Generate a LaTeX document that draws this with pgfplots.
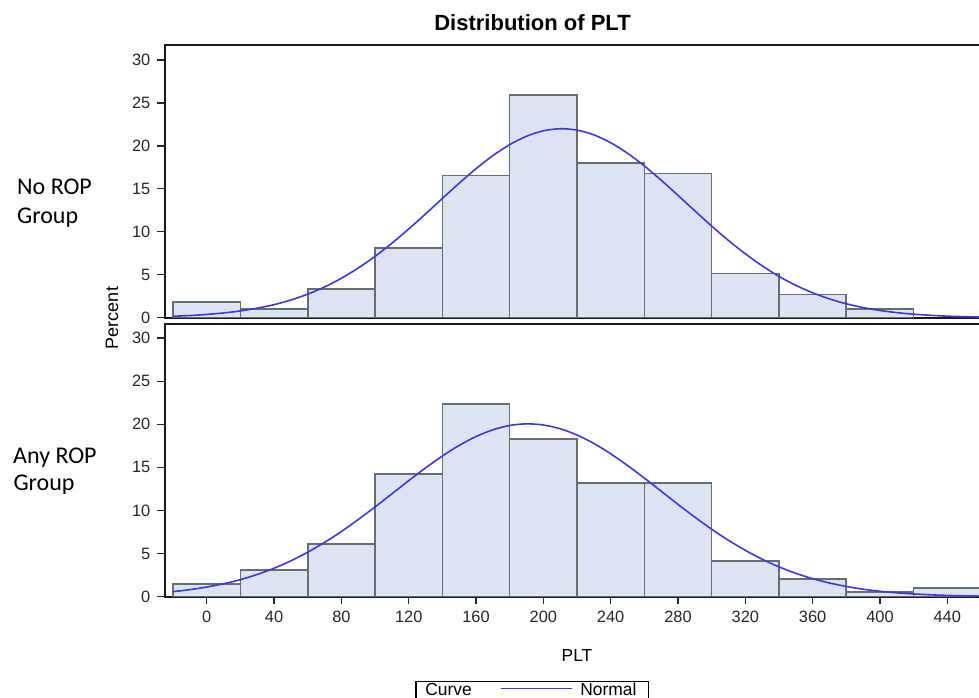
\documentclass[border=0pt]{standalone}
\usepackage{pgfplots}
\pgfplotsset{compat=1.18}
\usepackage{fontspec}
\setmainfont{Liberation Sans}
\newfontfamily\rowfont{Carlito}

\definecolor{barfill}{RGB}{219,228,240}
\definecolor{baredge}{RGB}{105,108,112}
\definecolor{curveblue}{RGB}{58,58,222}

% shared look of both panels
\pgfplotsset{hist/.style={
    scale only axis,
    width=413.85pt,
    xmin=-24.8, xmax=467, ymin=0,
    axis line style={black!90, line width=0.95pt},
    tick style={black!85, line width=0.6pt},
    tick align=outside,
    major tick length=3.8pt,
    ytick={0,5,...,30},
    ytick pos=left,
    tick label style={font=\fontsize{8.2}{9}\selectfont, text=black!85},
    /pgf/number format/assume math mode=true,
}}

\begin{document}
\begin{tikzpicture}
\useasboundingbox (0,0) rectangle (489.5pt,348.5pt);
\begin{scope}
\clip (0,0) rectangle (489.5pt,348.5pt);

% No ROP group
\begin{axis}[hist,
    at={(82.5pt,189.65pt)}, anchor=south west,
    height=136.35pt, ymax=31.75,
    xtick=\empty,
]
\addplot[ybar interval, fill=barfill, draw=baredge, line width=0.8pt] coordinates {
    (-20,1.8) (20,1.0) (60,3.35) (100,8.15) (140,16.55) (180,25.9)
    (220,18.0) (260,16.8) (300,5.15) (340,2.7) (380,1.0) (420,0)
};
\addplot[smooth, curveblue, line width=0.8pt] coordinates {
    (-20,0.17) (-10,0.25) (0,0.38) (10,0.55) (20,0.79) (30,1.11) (40,1.52)
    (50,2.06) (60,2.74) (70,3.58) (80,4.59) (90,5.78) (100,7.14) (110,8.67)
    (120,10.33) (130,12.08) (140,13.88) (150,15.66) (160,17.35) (170,18.87)
    (180,20.15) (190,21.13) (200,21.76) (210,22.00) (220,21.84) (230,21.29)
    (240,20.37) (250,19.15) (260,17.67) (270,16.01) (280,14.24) (290,12.44)
    (300,10.67) (310,8.99) (320,7.44) (330,6.04) (340,4.81) (350,3.77)
    (360,2.90) (370,2.19) (380,1.62) (390,1.18) (400,0.84) (410,0.59)
    (420,0.41) (430,0.28) (440,0.18) (450,0.12) (460,0.08) (470,0.05)
};
\end{axis}

% Any ROP group
\begin{axis}[hist,
    at={(82.5pt,50.15pt)}, anchor=south west,
    height=136.2pt, ymax=31.6,
    xtick={0,40,...,440}, xtick pos=bottom,
]
\addplot[ybar interval, fill=barfill, draw=baredge, line width=0.8pt] coordinates {
    (-20,1.47) (20,3.1) (60,6.12) (100,14.25) (140,22.38) (180,18.28)
    (220,13.17) (260,13.2) (300,4.11) (340,2.02) (380,0.58) (420,1.01) (460,0)
};
\addplot[smooth, curveblue, line width=0.8pt] coordinates {
    (-20,0.59) (-10,0.82) (0,1.12) (10,1.50) (20,1.98) (30,2.58) (40,3.30)
    (50,4.16) (60,5.16) (70,6.30) (80,7.56) (90,8.95) (100,10.41) (110,11.93)
    (120,13.46) (130,14.94) (140,16.32) (150,17.55) (160,18.58) (170,19.36)
    (180,19.86) (190,20.05) (200,19.92) (210,19.48) (220,18.76) (230,17.78)
    (240,16.58) (250,15.22) (260,13.76) (270,12.24) (280,10.71) (290,9.23)
    (300,7.83) (310,6.54) (320,5.38) (330,4.35) (340,3.46) (350,2.71)
    (360,2.09) (370,1.59) (380,1.19) (390,0.87) (400,0.63) (410,0.45)
    (420,0.32) (430,0.22) (440,0.15) (450,0.10) (460,0.07) (470,0.04)
};
\end{axis}

% titles and labels
\node[anchor=base, font=\fontsize{11}{13}\selectfont\bfseries] at (266.25pt,333pt) {Distribution of PLT};
\node[anchor=base, font=\fontsize{8.7}{10}\selectfont] at (288.5pt,18pt) {PLT};
\node[rotate=90, font=\fontsize{9}{10}\selectfont] at (56pt,189.5pt) {Percent};

\node[anchor=base west, inner sep=0pt, font=\rowfont\fontsize{12}{14}\selectfont] at (8.4pt,251pt) {No ROP};
\node[anchor=base west, inner sep=0pt, font=\rowfont\fontsize{12}{14}\selectfont] at (8.4pt,236.5pt) {Group};
\node[anchor=base west, inner sep=0pt, font=\rowfont\fontsize{12}{14}\selectfont] at (6.4pt,116.85pt) {Any ROP};
\node[anchor=base west, inner sep=0pt, font=\rowfont\fontsize{12}{14}\selectfont] at (6.6pt,103.5pt) {Group};

% legend key
\draw[black, line width=0.6pt] (208pt,-5pt) rectangle (324.15pt,7.65pt);
\node[anchor=base west, inner sep=0pt, font=\fontsize{8.7}{10}\selectfont] at (212.5pt,1pt) {Curve};
\draw[curveblue, line width=0.8pt] (250.35pt,4.35pt) -- (285.85pt,4.35pt);
\node[anchor=base west, inner sep=0pt, font=\fontsize{8.7}{10}\selectfont] at (290pt,1pt) {Normal};
\end{scope}
\end{tikzpicture}
\end{document}
